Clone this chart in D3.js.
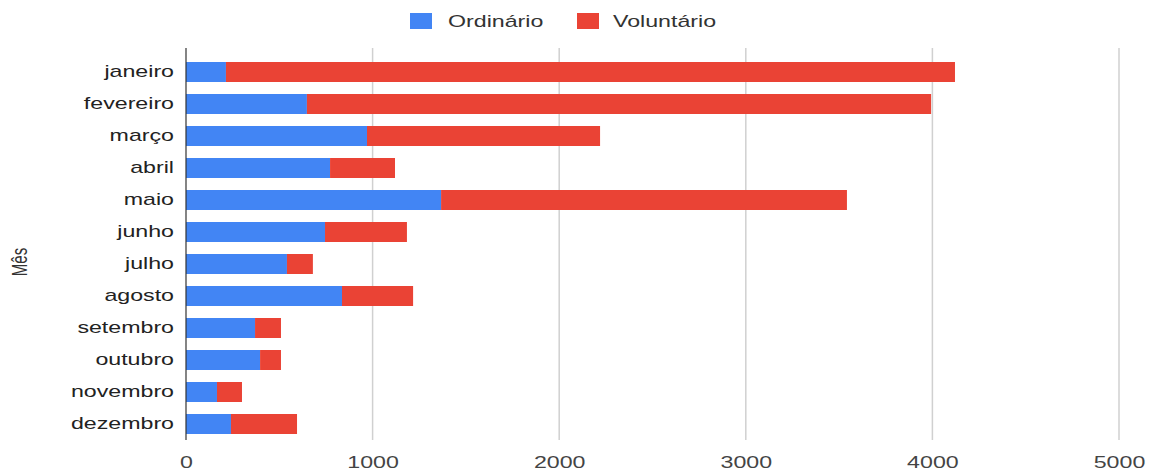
<!DOCTYPE html>
<html><head><meta charset="utf-8">
<script src="https://cdn.jsdelivr.net/npm/d3@7"></script>
<style>body{margin:0;background:#fff}svg{display:block}text{font-family:"Liberation Sans",Arial,sans-serif}</style>
</head><body><svg id="c" width="1153" height="473"></svg>
<script>
const months = ["janeiro","fevereiro","março","abril","maio","junho","julho","agosto","setembro","outubro","novembro","dezembro"];
const ordinario = [214,648,970,772,1367,745,541,836,370,397,166,241];
const voluntario = [3907,3345,1249,348,2175,439,139,381,139,112,134,354];
const seriesNames = ["Ordinário","Voluntário"];
const colors = ["#4285f4","#ea4335"];
const xTicks = [0,1000,2000,3000,4000,5000];

const SX = 1.45; // horizontal text stretch seen in the reference
const svg = d3.select("#c");
const x = d3.scaleLinear().domain([0,5000]).range([186,1119]);
const y = d3.scaleBand().domain(months).range([56,440]).paddingInner(0.375).paddingOuter(0.1875);

// gridlines
svg.append("g").selectAll("line").data(xTicks.slice(1)).join("line")
  .attr("x1",d=>x(d)).attr("x2",d=>x(d)).attr("y1",48).attr("y2",440)
  .attr("stroke","#d0d0d0").attr("stroke-width",1.5);

const rows = months.map((m,i)=>({m, o:ordinario[i], v:voluntario[i]}));
const stack = d3.stack().keys(["o","v"])(rows);
svg.append("g").selectAll("g").data(stack).join("g").attr("fill",(d,i)=>colors[i])
  .selectAll("rect").data(d=>d).join("rect")
  .attr("x",d=>x(d[0])).attr("width",d=>x(d[1])-x(d[0]))
  .attr("y",d=>y(d.data.m)).attr("height",y.bandwidth());

// zero axis line
svg.append("line").attr("x1",x(0)).attr("x2",x(0)).attr("y1",48).attr("y2",440)
  .attr("stroke","#333").attr("stroke-width",1.2);

// y labels
const ya = svg.append("g").attr("transform",`translate(${x(0)-12},0)`)
  .call(d3.axisLeft(y).tickSize(0).tickPadding(0));
ya.select(".domain").remove();
ya.selectAll("text").attr("font-size",16).attr("fill","#222")
  .attr("font-family","Liberation Sans, Arial, sans-serif")
  .attr("transform",`scale(${SX},1)`);

// x labels
const xa = svg.append("g").attr("transform","translate(0,454)")
  .call(d3.axisBottom(x).tickValues(xTicks).tickSize(0).tickPadding(3).tickFormat(d3.format("d")));
xa.select(".domain").remove();
xa.selectAll("text").attr("font-size",16).attr("fill","#444")
  .attr("font-family","Liberation Sans, Arial, sans-serif")
  .attr("transform",`scale(${SX},1)`);

// y axis title
svg.append("text").attr("transform",`translate(27,262) scale(${SX},1) rotate(-90)`).attr("text-anchor","middle")
  .attr("font-size",15).attr("fill","#333").text("Mês");

// legend
const leg = [{x:410,tx:448,t:seriesNames[0],c:colors[0]},{x:577,tx:613,t:seriesNames[1],c:colors[1]}];
const lg = svg.append("g").selectAll("g").data(leg).join("g");
lg.append("rect").attr("x",d=>d.x).attr("y",13).attr("width",22).attr("height",16).attr("fill",d=>d.c);
lg.append("text").attr("transform",d=>`translate(${d.tx},27) scale(${SX},1)`)
  .attr("font-size",16).attr("fill","#333").text(d=>d.t);
</script></body></html>
